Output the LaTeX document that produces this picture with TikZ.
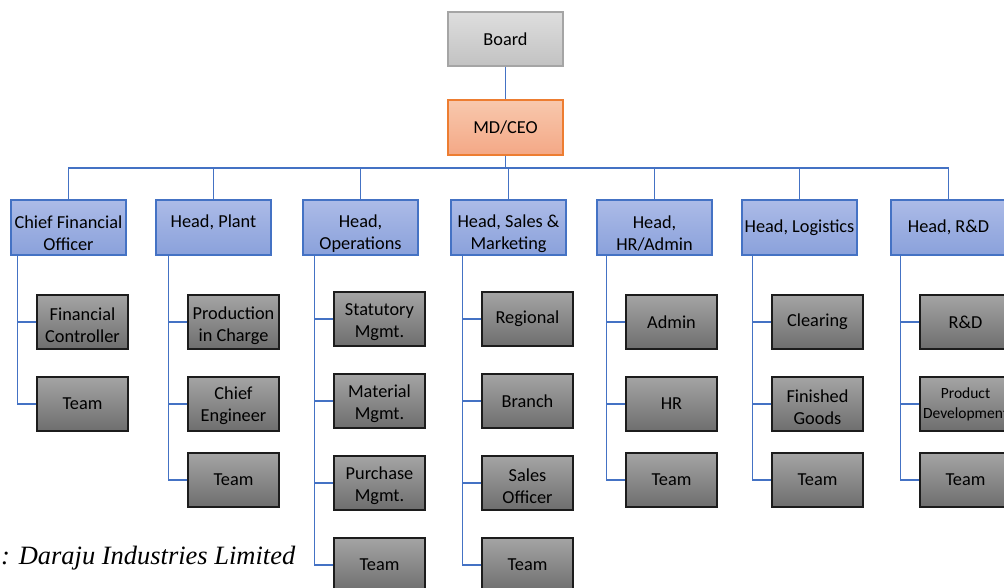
\documentclass[tikz,border=0pt]{standalone}
\usepackage{graphicx}
\usepackage{fontspec}
\newfontfamily\cfont{Carlito}
\newfontfamily\capfont{Liberation Serif}
\definecolor{conn}{HTML}{4472C4}
\definecolor{headtop}{HTML}{ACBBE7}
\definecolor{headbot}{HTML}{8AA1DB}
\definecolor{headbd}{HTML}{4472C4}
\definecolor{subtop}{HTML}{A4A4A4}
\definecolor{subbot}{HTML}{6E6E6E}
\definecolor{subbd}{HTML}{1C1C1C}
\definecolor{boardtop}{HTML}{DEDEDE}
\definecolor{boardbot}{HTML}{C2C2C2}
\definecolor{boardbd}{HTML}{A5A5A5}
\definecolor{ceotop}{HTML}{F8C8AD}
\definecolor{ceobot}{HTML}{F4A886}
\definecolor{ceobd}{HTML}{ED7D31}
% shift the ink of a text without changing its box
\newcommand{\headtwo}[2]{\raisebox{-6pt}[\height][\depth]{\parbox{113pt}{\centering #1\\#2}}}
\newcommand{\subtwo}[3][-3pt]{\raisebox{#1}[\height][\depth]{\parbox{89pt}{\centering #2\\#3}}}
\tikzset{
  base/.style={rectangle, minimum width=115pt, minimum height=55pt, inner sep=0pt,
    align=center, font=\cfont\fontsize{18.3}{22}\selectfont, line width=1.3pt},
  boardbox/.style={base, minimum height=54pt, draw=boardbd, top color=boardtop, bottom color=boardbot},
  ceobox/.style={base, draw=ceobd, top color=ceotop, bottom color=ceobot},
  headbox/.style={base, draw=headbd, top color=headtop, bottom color=headbot},
  subbox/.style={base, minimum width=91pt, minimum height=54pt, draw=subbd, top color=subtop, bottom color=subbot},
  link/.style={draw=conn, line width=1.2pt},
}
\begin{document}
\begin{tikzpicture}[x=1pt,y=-1pt]
\useasboundingbox (0,0) rectangle (1004,587);
% top
\node[boardbox] (board) at (505.5,39) {Board};
\node[ceobox] (ceo) at (505.5,127.5) {MD/CEO};
\coordinate (bus) at (0,168);
% heads
\node[headbox] (h1) at (68.5,227.5) {\headtwo{Chief Financial}{Officer}};
\node[headbox] (h2) at (213.5,227.5) {\raisebox{5pt}[\height][\depth]{Head, Plant}};
\node[headbox] (h3) at (360.5,227.5) {\headtwo{Head,}{Operations}};
\node[headbox] (h4) at (508.5,227.5) {\headtwo{Head, Sales \&}{Marketing}};
\node[headbox] (h5) at (654.5,227.5) {\headtwo{Head,}{HR/Admin}};
\node[headbox] (h6) at (799.5,227.5) {Head, Logistics};
\node[headbox] (h7) at (948.5,227.5) {Head, R\&D};
% children
\node[subbox] (c11) at (82.5,322) {\subtwo{Financial}{Controller}};
\node[subbox] (c12) at (82.5,404) {Team};
\node[subbox] (c21) at (233.5,322) {\subtwo[-4pt]{Production}{in Charge}};
\node[subbox] (c22) at (233.5,404) {\subtwo[-2pt]{Chief}{Engineer}};
\node[subbox] (c23) at (233.5,480) {Team};
\node[subbox] (c31) at (379.5,319) {\subtwo{Statutory}{Mgmt.}};
\node[subbox] (c32) at (379.5,401) {\subtwo{Material}{Mgmt.}};
\node[subbox] (c33) at (379.5,483) {\subtwo{Purchase}{Mgmt.}};
\node[subbox] (c34) at (379.5,565) {Team};
\node[subbox] (c41) at (527.5,319) {Regional};
\node[subbox] (c42) at (527.5,401) {Branch};
\node[subbox] (c43) at (527.5,483) {\subtwo{Sales}{Officer}};
\node[subbox] (c44) at (527.5,565) {Team};
\node[subbox] (c51) at (671.5,322) {Admin};
\node[subbox] (c52) at (671.5,404) {HR};
\node[subbox] (c53) at (671.5,480) {Team};
\node[subbox] (c61) at (817.5,322) {Clearing};
\node[subbox] (c62) at (817.5,404) {\subtwo{Finished}{Goods}};
\node[subbox] (c63) at (817.5,480) {Team};
\node[subbox] (c71) at (965.5,322) {R\&D};
\node[subbox, font=\cfont\fontsize{15.5}{20}\selectfont] (c72) at (965.5,404) {Product\\Development};
\node[subbox] (c73) at (965.5,480) {Team};
% caption
\node[anchor=west, inner sep=0pt] (cap) at (1,558) {\resizebox{294pt}{!}{\capfont\itshape : Daraju Industries Limited}};
% top connectors
\draw[link] (board.south) -- (ceo.north);
\draw[link] (ceo.south) -- (ceo.south |- bus);
\draw[link] (h1.north) -- (h1.north |- bus) -- (h7.north |- bus) -- (h7.north);
\foreach \h in {h2,h3,h4,h5,h6}{\draw[link] (\h.north) -- (\h.north |- bus);}
% spine coordinates
\coordinate (s1) at ([xshift=7pt]h1.south west);
\coordinate (s2) at ([xshift=13pt]h2.south west);
\coordinate (s3) at ([xshift=12pt]h3.south west);
\coordinate (s4) at ([xshift=12pt]h4.south west);
\coordinate (s5) at ([xshift=10pt]h5.south west);
\coordinate (s6) at ([xshift=11pt]h6.south west);
\coordinate (s7) at ([xshift=10pt]h7.south west);
% child connectors
\draw[link] (s1) |- (c12.west);
\draw[link] (c11.west) -- (c11.west -| s1);
\draw[link] (s2) |- (c23.west);
\foreach \c in {c21,c22}{\draw[link] (\c.west) -- (\c.west -| s2);}
\draw[link] (s3) |- (c34.west);
\foreach \c in {c31,c32,c33}{\draw[link] (\c.west) -- (\c.west -| s3);}
\draw[link] (s4) |- (c44.west);
\foreach \c in {c41,c42,c43}{\draw[link] (\c.west) -- (\c.west -| s4);}
\draw[link] (s5) |- (c53.west);
\foreach \c in {c51,c52}{\draw[link] (\c.west) -- (\c.west -| s5);}
\draw[link] (s6) |- (c63.west);
\foreach \c in {c61,c62}{\draw[link] (\c.west) -- (\c.west -| s6);}
\draw[link] (s7) |- (c73.west);
\foreach \c in {c71,c72}{\draw[link] (\c.west) -- (\c.west -| s7);}
\end{tikzpicture}
\end{document}
